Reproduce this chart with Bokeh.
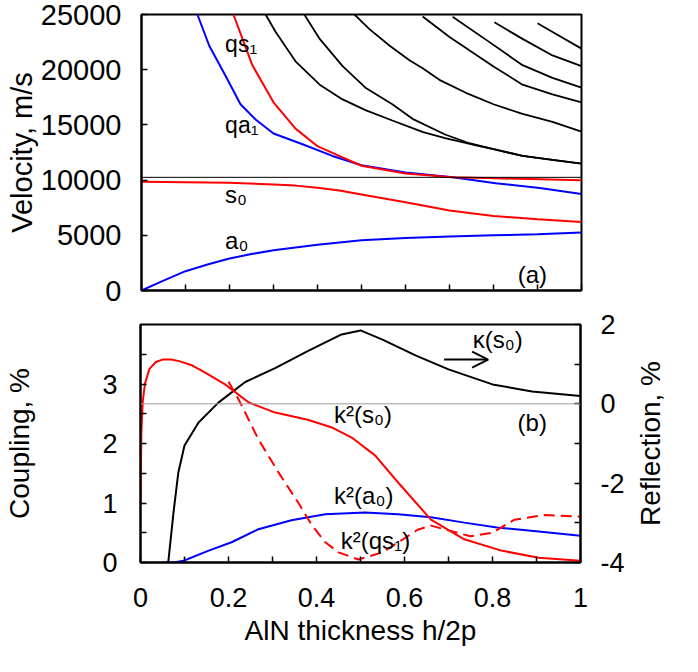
import math
from bokeh.plotting import figure
from bokeh.layouts import column, row
from bokeh.models import (Range1d, LinearAxis, FixedTicker, Span, Arrow, OpenHead,
                          Label, CustomJSTickFormatter)
from bokeh.embed import file_html
from bokeh.resources import INLINE

FONT = "Liberation Sans"

# ---------------- top panel data (velocity, m/s) ----------------
a0_x = [0, 0.05, 0.1, 0.15, 0.2, 0.25, 0.3, 0.4, 0.5, 0.6, 0.7, 0.8, 0.9, 1.0]
a0_v = [0, 900, 1750, 2350, 2900, 3300, 3650, 4150, 4550, 4750, 4900, 5000, 5100, 5250]

s0_x = [0, 0.1, 0.2, 0.3, 0.35, 0.4, 0.45, 0.5, 0.6, 0.7, 0.8, 0.9, 1.0]
s0_v = [9850, 9800, 9750, 9600, 9500, 9300, 9050, 8700, 8000, 7250, 6750, 6450, 6200]

qa1_x = [0.127, 0.154, 0.19, 0.225, 0.26, 0.30, 0.366, 0.434, 0.5, 0.6, 0.707, 0.805, 0.905, 1.0]
qa1_v = [25000, 22170, 19520, 16870, 15460, 14220, 13250, 12190, 11350, 10700, 10250, 9720, 9280, 8750]

qs1_x = [0.209, 0.252, 0.30, 0.35, 0.40, 0.434, 0.5, 0.6, 0.707, 0.805, 0.905, 1.0]
qs1_v = [25000, 20400, 17050, 14660, 13070, 12460, 11300, 10600, 10250, 10160, 10070, 9980]

b1_x = [0.282, 0.305, 0.35, 0.405, 0.457, 0.509, 0.57, 0.616, 0.64, 0.69, 0.768, 0.8, 0.866, 0.934, 1.0]
b1_v = [25000, 23410, 20760, 18640, 17310, 16340, 15400, 14700, 14350, 13800, 13070, 12810, 12190, 11840, 11500]
b2_x = [0.37, 0.405, 0.457, 0.509, 0.57, 0.616, 0.69, 0.745, 0.8, 0.866, 0.934, 1.0]
b2_v = [25000, 22790, 20320, 18370, 16870, 15550, 14130, 13340, 12810, 12190, 11840, 11500]
b3_x = [0.484, 0.518, 0.564, 0.609, 0.639, 0.677, 0.736, 0.8, 0.866, 0.934, 1.0]
b3_v = [25000, 23680, 22170, 20850, 20140, 19080, 17930, 16870, 15990, 15280, 14400]
b4_x = [0.639, 0.7, 0.8, 0.866, 0.934, 1.0]
b4_v = [24820, 22970, 20300, 18640, 17760, 17050]
b5_x = [0.707, 0.79, 0.866, 0.934, 1.0]
b5_v = [24800, 22520, 20410, 19260, 18370]
b6_x = [0.802, 0.866, 0.934, 1.0]
b6_v = [24290, 22790, 21290, 20320]
b7_x = [0.9, 0.95, 1.0]
b7_v = [24200, 23060, 21910]
black_modes = [(b1_x, b1_v), (b2_x, b2_v), (b3_x, b3_v), (b4_x, b4_v),
               (b5_x, b5_v), (b6_x, b6_v), (b7_x, b7_v)]

bulk_velocity = 10250

vel_ticks = [0, 5000, 10000, 15000, 20000, 25000]
x_all_ticks = [0, 0.1, 0.2, 0.3, 0.4, 0.5, 0.6, 0.7, 0.8, 0.9, 1.0]

top_labels = ["qs\u2081", "qa\u2081", "s\u2080", "a\u2080", "(a)"]
top_label_x = [0.19, 0.19, 0.19, 0.19, 0.855]
top_label_y = [22350, 15020, 8660, 4500, 1410]
top_label_size = ["23px", "23px", "24px", "24px", "24px"]

# ---------------- bottom panel data (coupling %, reflection %) ----------------
k2s0_x = [0, 0.002, 0.005, 0.01, 0.02, 0.035, 0.05, 0.07, 0.09, 0.118, 0.15, 0.193,
          0.246, 0.306, 0.38, 0.435, 0.48, 0.533, 0.586, 0.66, 0.736, 0.82, 0.905, 1.0]
k2s0 = [1.0, 2.2, 2.7, 3.0, 3.25, 3.37, 3.41, 3.41, 3.38, 3.31, 3.18, 2.99,
        2.69, 2.52, 2.40, 2.27, 2.10, 1.80, 1.34, 0.72, 0.39, 0.2, 0.08, 0.03]

kappa_x = [0.063, 0.075, 0.086, 0.1, 0.132, 0.177, 0.238, 0.306, 0.38, 0.457, 0.5,
           0.55, 0.625, 0.7, 0.8, 0.89, 1.0]
kappa = [-4, -2.74, -1.73, -1.05, -0.47, 0.03, 0.55, 0.9, 1.33, 1.75, 1.85,
         1.62, 1.22, 0.87, 0.49, 0.31, 0.2]

k2a0_x = [0.05, 0.075, 0.098, 0.155, 0.207, 0.268, 0.343, 0.42, 0.51, 0.585, 0.66,
          0.736, 0.81, 0.905, 1.0]
k2a0 = [0, 0, 0.03, 0.2, 0.34, 0.56, 0.71, 0.81, 0.84, 0.81, 0.76, 0.67, 0.59, 0.52, 0.45]

k2qs1_x = [0.2, 0.223, 0.268, 0.314, 0.359, 0.39, 0.42, 0.45, 0.495, 0.55, 0.586,
           0.63, 0.66, 0.7, 0.75, 0.8, 0.85, 0.92, 1.0]
k2qs1 = [3.04, 2.74, 2.07, 1.51, 1.0, 0.62, 0.34, 0.17, 0.05, 0.17, 0.34,
         0.55, 0.62, 0.54, 0.44, 0.5, 0.72, 0.8, 0.77]

x_ticks = [0, 0.2, 0.4, 0.6, 0.8, 1.0]
x_minor = [0.1, 0.3, 0.5, 0.7, 0.9]
coup_ticks = [0, 1, 2, 3]
coup_minor = [0.5, 1.5, 2.5, 3.5]
refl_ticks = [-4, -2, 0, 2]
refl_minor = [-3, -1, 1]

bot_labels = ["\u03ba(s\u2080)", "k\u00b2(s\u2080)", "(b)", "k\u00b2(a\u2080)", "k\u00b2(qs\u2081)"]
bot_label_x = [0.755, 0.44, 0.857, 0.44, 0.455]
bot_label_y = [3.75, 2.49, 2.35, 1.13, 0.37]
arrow_x = [0.69, 0.79]
arrow_y = 3.41

refl_title = "Reflection, %"

RED = "#ff0000"
BLUE = "#0000ff"
MAIN_W = 632
SIDE_W = 50


def style_axis(ax, size):
    ax.axis_line_width = 2
    ax.axis_line_color = "black"
    ax.major_tick_in = 6
    ax.major_tick_out = 0
    ax.minor_tick_in = 0
    ax.minor_tick_out = 0
    ax.major_tick_line_width = 1.5
    ax.major_label_text_font = FONT
    ax.major_label_text_font_size = size
    ax.major_label_text_color = "black"
    ax.axis_label_text_font = FONT
    ax.axis_label_text_font_style = "normal"
    ax.axis_label_text_color = "black"


def blank_strip(height, top_border, bottom_border, y_range):
    f = figure(width=SIDE_W, height=height, x_range=Range1d(0, 1), y_range=y_range,
               x_axis_type=None, y_axis_type=None, output_backend="svg",
               toolbar_location=None, min_border_left=0, min_border_right=0,
               min_border_top=top_border, min_border_bottom=bottom_border)
    f.grid.visible = False
    f.outline_line_color = None
    return f


# ---------------- top figure ----------------
top = figure(width=MAIN_W, height=307, x_range=Range1d(0, 1), y_range=Range1d(0, 25000),
             output_backend="svg", toolbar_location=None,
             min_border_left=141, min_border_right=51, min_border_top=14, min_border_bottom=17)
top.grid.visible = False
top.outline_line_color = "black"
top.outline_line_width = 2

xt = top.xaxis[0]
style_axis(xt, "4px")
xt.ticker = FixedTicker(ticks=x_all_ticks)
xt.formatter = CustomJSTickFormatter(code="return ' ';")
xt.major_label_standoff = 0

yt = top.yaxis[0]
style_axis(yt, "29px")
yt.ticker = FixedTicker(ticks=vel_ticks)
yt.major_label_standoff = 20
yt.axis_label = "Velocity, m/s"
yt.axis_label_text_font_size = "29px"
yt.axis_label_standoff = 0

top.add_layout(Span(location=bulk_velocity, dimension="width", line_color="black", line_width=1))

for bx, bv in black_modes:
    top.line(bx, bv, line_color="black", line_width=1.8)
top.line(a0_x, a0_v, line_color=BLUE, line_width=2)
top.line(qa1_x, qa1_v, line_color=BLUE, line_width=2)
top.line(s0_x, s0_v, line_color=RED, line_width=2)
top.line(qs1_x, qs1_v, line_color=RED, line_width=2)

for t, lx, ly, fs in zip(top_labels, top_label_x, top_label_y, top_label_size):
    top.add_layout(Label(x=lx, y=ly, text=t, text_font=FONT, text_font_size=fs,
                         text_align="left", text_baseline="middle", text_color="black"))

top_side = blank_strip(307, 14, 17, top.y_range)

# ---------------- bottom figure ----------------
bot = figure(width=MAIN_W, height=349, x_range=Range1d(0, 1), y_range=Range1d(0, 4),
             output_backend="svg", toolbar_location=None,
             min_border_left=140, min_border_right=52, min_border_top=17, min_border_bottom=94)
bot.grid.visible = False
bot.outline_line_color = "black"
bot.outline_line_width = 2
bot.extra_y_ranges = {"refl": Range1d(-4, 2)}

xa = bot.xaxis[0]
style_axis(xa, "27px")
xa.ticker = FixedTicker(ticks=x_ticks, minor_ticks=x_minor)
xa.minor_tick_in = 6
xa.minor_tick_line_width = 1.5
xa.formatter = CustomJSTickFormatter(code="return tick.toFixed(1).replace(/\\.0$/, '');")
xa.major_label_standoff = 25
xa.axis_label = "AlN thickness h/2p"
xa.axis_label_text_font_size = "28px"
xa.axis_label_standoff = 5

ya = bot.yaxis[0]
style_axis(ya, "27px")
ya.ticker = FixedTicker(ticks=coup_ticks, minor_ticks=coup_minor)
ya.minor_tick_in = 6
ya.minor_tick_line_width = 1.5
ya.major_label_standoff = 23
ya.axis_label = "Coupling, %"
ya.axis_label_text_font_size = "28px"
ya.axis_label_standoff = 64

ra = LinearAxis(y_range_name="refl")
style_axis(ra, "27px")
ra.ticker = FixedTicker(ticks=refl_ticks, minor_ticks=refl_minor)
ra.minor_tick_in = 6
ra.minor_tick_line_width = 1.5
ra.major_label_standoff = 20
ra.formatter = CustomJSTickFormatter(code="return tick.toFixed(0);")
bot.add_layout(ra, "right")

bot.add_layout(Span(location=0, dimension="width", y_range_name="refl",
                    line_color="#9a9a9a", line_width=1))

bot.line(kappa_x, kappa, y_range_name="refl", line_color="black", line_width=2)
bot.line(k2a0_x, k2a0, line_color=BLUE, line_width=2)
bot.line(k2qs1_x, k2qs1, line_color=RED, line_width=2, line_dash="11 6")
bot.line(k2s0_x, k2s0, line_color=RED, line_width=2)

for t, lx, ly in zip(bot_labels, bot_label_x, bot_label_y):
    bot.add_layout(Label(x=lx, y=ly, text=t, text_font=FONT, text_font_size="24px",
                         text_align="left", text_baseline="middle", text_color="black"))

bot.add_layout(Arrow(x_start=arrow_x[0], y_start=arrow_y, x_end=arrow_x[1], y_end=arrow_y,
                     line_color="black", line_width=2,
                     end=OpenHead(size=16, line_width=2, line_color="black")))

# narrow strip carrying the right-axis title (reads bottom to top)
side = blank_strip(349, 17, 94, bot.y_range)
side.add_layout(Label(x=0.36, y=2.0, text=refl_title, angle=math.pi / 2,
                      text_font=FONT, text_font_size="28px", text_align="center",
                      text_baseline="middle", text_color="black"))

layout = column(row(top, top_side, spacing=0), row(bot, side, spacing=0), spacing=0)
open("out.html", "w").write(file_html(layout, INLINE))
